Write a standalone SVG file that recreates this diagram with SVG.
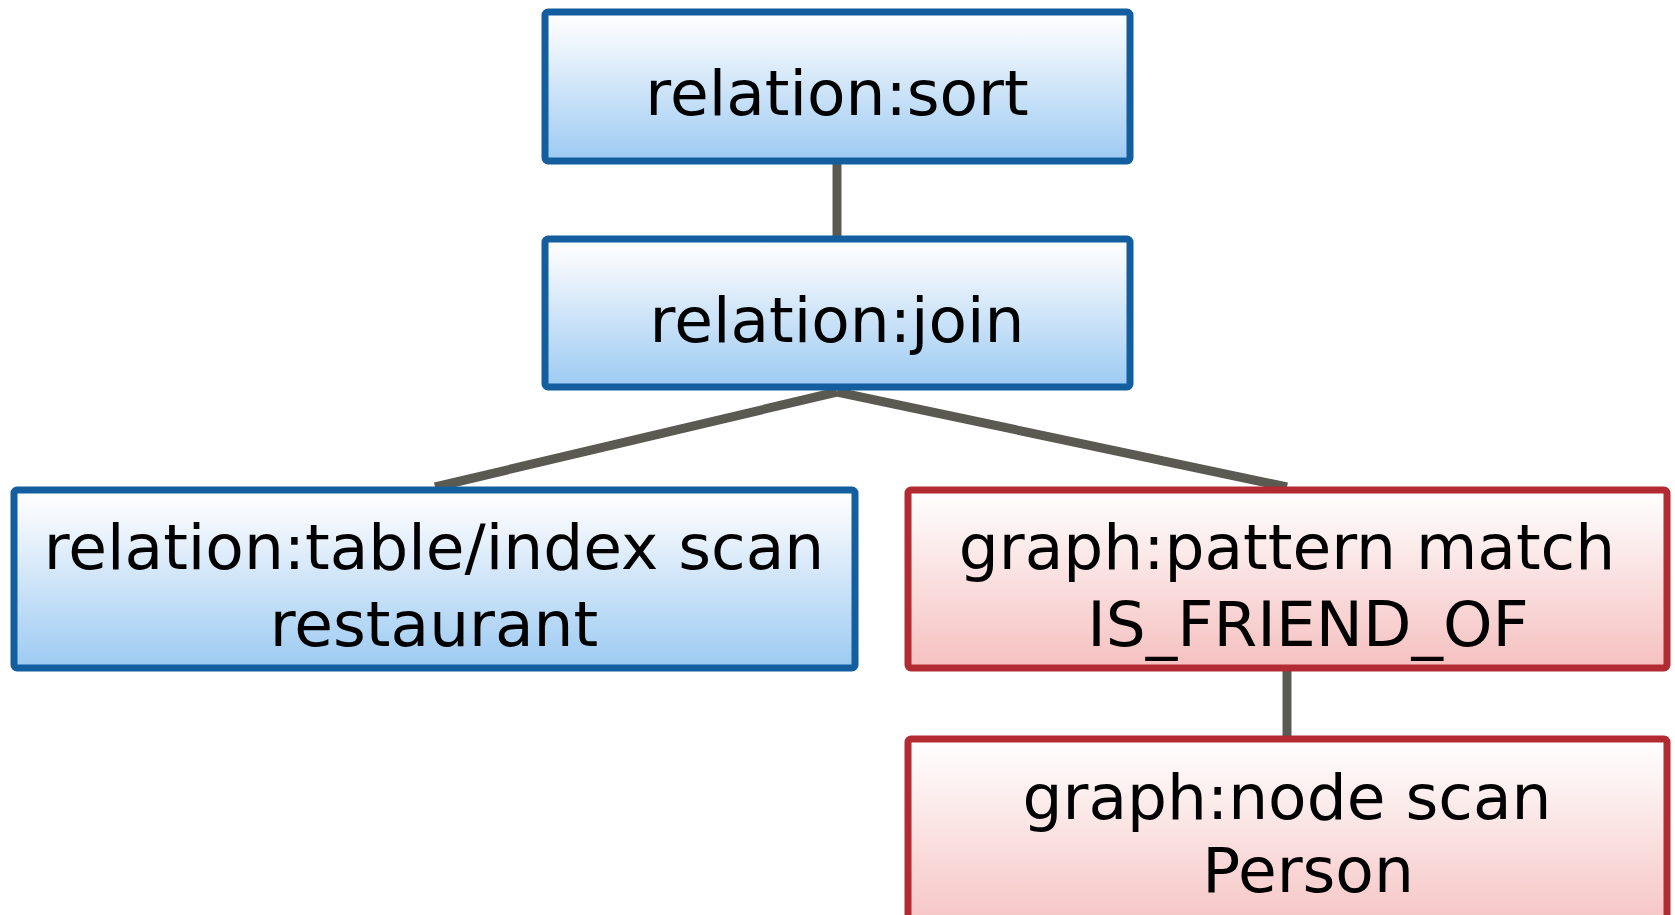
<svg xmlns="http://www.w3.org/2000/svg" width="1675" height="915" viewBox="0 0 1675 915">
  <defs>
    <linearGradient id="blueFill" x1="0" y1="0" x2="0" y2="1">
      <stop offset="0" stop-color="#ffffff"/>
      <stop offset="0.15" stop-color="#f4f8fd"/>
      <stop offset="1" stop-color="#9ccaf2"/>
    </linearGradient>
    <linearGradient id="redFill" x1="0" y1="0" x2="0" y2="1">
      <stop offset="0" stop-color="#ffffff"/>
      <stop offset="0.15" stop-color="#fdf6f6"/>
      <stop offset="1" stop-color="#f6c0c0"/>
    </linearGradient>
    <style>
      .blue { fill: url(#blueFill); stroke: #135e9e; stroke-width: 7; }
      .red { fill: url(#redFill); stroke: #b22a32; stroke-width: 7; }
      .label { font-family: "DejaVu Sans", Verdana, sans-serif; font-size: 63px; fill: #000000; text-anchor: middle; }
      .edge { stroke: #5a5a52; stroke-width: 9; fill: none; }
    </style>
  </defs>
  <rect width="1675" height="915" fill="#ffffff"/>

  <g id="connectors">
    <line class="edge" x1="837" y1="163" x2="837" y2="239"/>
    <line class="edge" x1="837" y1="392" x2="435" y2="487"/>
    <line class="edge" x1="837" y1="392" x2="1287" y2="487"/>
    <line class="edge" x1="1287" y1="671" x2="1287" y2="739"/>
  </g>

  <g id="sort">
    <rect class="blue" x="545" y="12" width="585" height="149" rx="3"/>
    <text class="label" x="837" y="115">relation:sort</text>
  </g>

  <g id="join">
    <rect class="blue" x="545" y="239" width="585" height="148" rx="3"/>
    <text class="label" x="837" y="342">relation:join</text>
  </g>

  <g id="table-scan">
    <rect class="blue" x="14" y="490" width="841" height="178" rx="3"/>
    <text class="label" x="434" y="569">relation:table/index scan</text>
    <text class="label" x="434" y="646">restaurant</text>
  </g>

  <g id="pattern-match">
    <rect class="red" x="908" y="490" width="759" height="178" rx="3"/>
    <text class="label" x="1287" y="569">graph:pattern match</text>
    <text class="label" x="1308" y="646">IS_FRIEND_OF</text>
  </g>

  <g id="node-scan">
    <rect class="red" x="908" y="739" width="759" height="200" rx="3"/>
    <text class="label" x="1287" y="819">graph:node scan</text>
    <text class="label" x="1308" y="892">Person</text>
  </g>
</svg>
